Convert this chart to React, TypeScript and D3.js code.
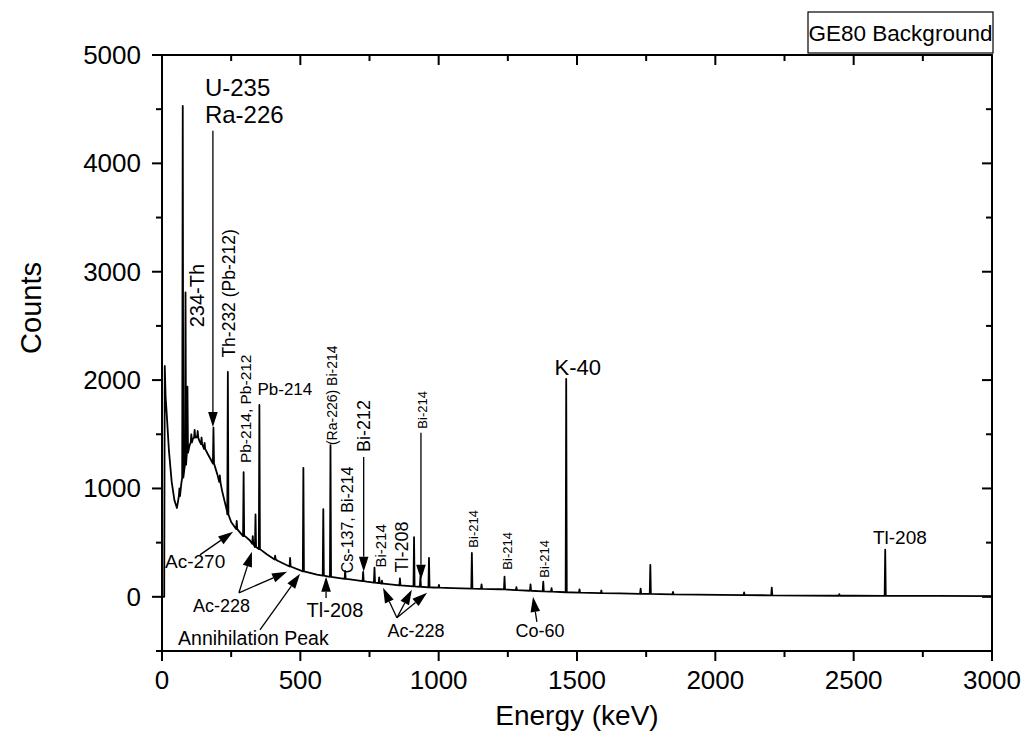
import React from 'react';
import * as d3 from 'd3';

// ---- axis ticks ----
const xMajorTicks = [0, 500, 1000, 1500, 2000, 2500, 3000];
const xMinorTicks = [250, 750, 1250, 1750, 2250, 2750];
const yMajorTicks = [0, 1000, 2000, 3000, 4000, 5000];
const yMinorTicks = [-500, 500, 1500, 2500, 3500, 4500];

// ---- continuum readings: [energy keV, counts] ----
const continuum: [number, number][] = [
  [0, 0], [8, 0], [10, 2130], [13, 1850], [18, 1650], [25, 1350], [35, 1060], [45, 890],
  [54, 820], [62, 900], [70, 1050], [80, 1160], [88, 1260], [100, 1400], [112, 1460],
  [125, 1480], [135, 1440], [150, 1380], [165, 1320], [186, 1230], [200, 1130], [217, 980],
  [235, 790], [250, 690], [271, 630], [300, 560], [318, 520], [350, 440], [380, 390],
  [420, 330], [463, 280], [510, 235], [560, 205], [607, 185], [680, 160], [740, 140],
  [800, 122], [860, 106], [920, 95], [980, 86], [1050, 80], [1120, 75], [1222, 70],
  [1300, 60], [1400, 48], [1461, 42], [1550, 36], [1655, 32], [1800, 25], [2017, 18],
  [2200, 14], [2500, 10], [2800, 8], [3000, 7],
];

// ---- peak readings: [energy keV, top counts, base counts] ----
const peaks: [number, number, number][] = [
  [63, 1000, 930], [75, 4530, 1100], [85, 2810, 1220], [92, 1940, 1330],
  [106, 1500, 1425], [118, 1540, 1470], [129, 1530, 1470], [143, 1470, 1410], [154, 1420, 1365],
  [186, 1560, 1230], [209, 1120, 1060], [238, 2075, 760], [270, 700, 625], [295, 1150, 560],
  [328, 560, 490], [338, 760, 460], [352, 1770, 440], [409, 380, 345], [463, 360, 280],
  [511, 1190, 235], [583, 810, 195], [609, 1400, 185], [662, 240, 165],
  [727, 230, 145], [768, 270, 130], [785, 180, 126], [795, 150, 122], [860, 170, 106],
  [911, 550, 96], [934, 185, 93], [965, 360, 88], [1001, 110, 84], [1120, 405, 75],
  [1155, 115, 73], [1238, 185, 68], [1281, 90, 62], [1332, 115, 56], [1378, 140, 50],
  [1408, 80, 47], [1461, 2010, 42], [1509, 68, 38], [1588, 58, 34], [1730, 75, 28],
  [1765, 295, 27], [1847, 45, 23], [2104, 40, 16], [2204, 85, 14], [2448, 25, 10],
  [2614, 435, 9],
];

// ---- labels ----
type Label = { text: string; e: number; c: number; rot?: boolean; size: number; anchor?: string };
const labels: Label[] = [
  { text: 'U-235', e: 155, c: 4620, size: 24, anchor: 'start' },
  { text: 'Ra-226', e: 155, c: 4370, size: 24, anchor: 'start' },
  { text: '234-Th', e: 127, c: 2780, rot: true, size: 20 },
  { text: 'Th-232 (Pb-212)', e: 242, c: 2800, rot: true, size: 17.5 },
  { text: 'Pb-214, Pb-212', e: 300, c: 1735, rot: true, size: 15.5 },
  { text: 'Pb-214', e: 345, c: 1860, size: 17, anchor: 'start' },
  { text: '(Ra-226) Bi-214', e: 614, c: 1860, rot: true, size: 14 },
  { text: 'Bi-212', e: 729, c: 1577, rot: true, size: 18 },
  { text: 'Cs-137, Bi-214', e: 669, c: 710, rot: true, size: 16 },
  { text: 'Bi-214', e: 791, c: 470, rot: true, size: 15 },
  { text: 'Tl-208', e: 866, c: 460, rot: true, size: 18 },
  { text: 'Bi-214', e: 940, c: 1725, rot: true, size: 13 },
  { text: 'Bi-214', e: 1125, c: 627, rot: true, size: 13 },
  { text: 'Bi-214', e: 1247, c: 424, rot: true, size: 13 },
  { text: 'Bi-214', e: 1384, c: 350, rot: true, size: 13 },
  { text: 'K-40', e: 1503, c: 2050, size: 22, anchor: 'middle' },
  { text: 'Tl-208', e: 2667, c: 485, size: 19, anchor: 'middle' },
  { text: 'Ac-270', e: 11, c: 268, size: 19, anchor: 'start' },
  { text: 'Ac-228', e: 112, c: -138, size: 18, anchor: 'start' },
  { text: 'Annihilation Peak', e: 58, c: -443, size: 19.5, anchor: 'start' },
  { text: 'Tl-208', e: 625, c: -185, size: 20, anchor: 'middle' },
  { text: 'Ac-228', e: 918, c: -369, size: 18, anchor: 'middle' },
  { text: 'Co-60', e: 1366, c: -369, size: 18, anchor: 'middle' },
];

// ---- arrows: [e1, c1, e2(tip), c2(tip)] ----
const arrows: [number, number, number, number][] = [
  [184, 4300, 184, 1568],
  [729, 1290, 729, 231],
  [936, 1513, 936, 157],
  [137, 387, 257, 600],
  [278, 37, 325, 415],
  [278, 37, 452, 231],
  [354, -304, 499, 212],
  [593, -10, 593, 185],
  [849, -194, 799, 83],
  [849, -194, 903, 65],
  [849, -194, 958, 37],
  [1355, -231, 1341, 0],
];

const FONT = '"Liberation Sans", Arial, sans-serif';

function buildSpectrum(): [number, number][] {
  const hw = 2;
  const pts: [number, number][] = continuum
    .filter((d) => !peaks.some(([e]) => Math.abs(d[0] - e) <= hw))
    .map((d) => [d[0], d[1]] as [number, number]);
  for (const [e, top, base] of peaks) {
    pts.push([e - hw, base], [e, top], [e + hw, base]);
  }
  pts.sort((a, b) => a[0] - b[0]);
  return pts;
}

function Arrow({ x1, y1, x2, y2 }: { x1: number; y1: number; x2: number; y2: number }) {
  const dx = x2 - x1, dy = y2 - y1;
  const L = Math.hypot(dx, dy);
  const ux = dx / L, uy = dy / L;
  const len = 15, w = 4.8;
  const bx = x2 - ux * len, by = y2 - uy * len;
  const px = -uy * w, py = ux * w;
  return (
    <g>
      <line x1={x1} y1={y1} x2={bx} y2={by} stroke="#000" strokeWidth={1.3} />
      <polygon points={`${x2},${y2} ${bx + px},${by + py} ${bx - px},${by - py}`} fill="#000" />
    </g>
  );
}

export default function App() {
  const W = 1027, H = 745;
  const x = d3.scaleLinear().domain([0, 3000]).range([162, 992]);
  const y = d3.scaleLinear().domain([-500, 5000]).range([651, 55]);
  const spectrum = buildSpectrum();
  const line = d3.line<[number, number]>().x((d) => x(d[0])).y((d) => y(d[1]));
  const [x0, x1] = x.range();
  const [yb, yt] = y.range();

  return (
    <svg width={W} height={H} style={{ position: 'absolute', left: 0, top: 0, background: '#fff' }} fontFamily={FONT}>
      <rect x={0} y={0} width={W} height={H} fill="#fff" />
      {/* spectrum */}
      <path d={line(spectrum) || ''} fill="none" stroke="#000" strokeWidth={1.8} strokeLinejoin="round" />

      {/* frame */}
      <rect x={x0} y={yt} width={x1 - x0} height={yb - yt} fill="none" stroke="#000" strokeWidth={2} />

      {/* bottom ticks (outward) and top ticks (inward) */}
      {xMajorTicks.map((t) => (
        <g key={'xM' + t}>
          <line x1={x(t)} x2={x(t)} y1={yb} y2={yb + 10} stroke="#000" strokeWidth={2} />
          <line x1={x(t)} x2={x(t)} y1={yt} y2={yt + 10} stroke="#000" strokeWidth={2} />
          <text x={x(t)} y={689} textAnchor="middle" fontSize={26}>{t}</text>
        </g>
      ))}
      {xMinorTicks.map((t) => (
        <g key={'xm' + t}>
          <line x1={x(t)} x2={x(t)} y1={yb} y2={yb + 6} stroke="#000" strokeWidth={2} />
          <line x1={x(t)} x2={x(t)} y1={yt} y2={yt + 6} stroke="#000" strokeWidth={2} />
        </g>
      ))}
      {/* left ticks (outward) and right ticks (inward) */}
      {yMajorTicks.map((t) => (
        <g key={'yM' + t}>
          <line x1={x0} x2={x0 - 10} y1={y(t)} y2={y(t)} stroke="#000" strokeWidth={2} />
          <line x1={x1} x2={x1 - 10} y1={y(t)} y2={y(t)} stroke="#000" strokeWidth={2} />
          <text x={141} y={y(t)} textAnchor="end" dominantBaseline="central" fontSize={26}>{t}</text>
        </g>
      ))}
      {yMinorTicks.map((t) => (
        <g key={'ym' + t}>
          <line x1={x0} x2={x0 - 6} y1={y(t)} y2={y(t)} stroke="#000" strokeWidth={2} />
          <line x1={x1} x2={x1 - 6} y1={y(t)} y2={y(t)} stroke="#000" strokeWidth={2} />
        </g>
      ))}

      {/* axis titles */}
      <text x={(x0 + x1) / 2} y={725} textAnchor="middle" fontSize={28}>Energy (keV)</text>
      <text transform={`translate(41,${(yb + yt) / 2 - 45}) rotate(-90)`} textAnchor="middle" fontSize={29}>Counts</text>

      {/* title box */}
      <rect x={808} y={12} width={185} height={41} fill="#fff" stroke="#000" strokeWidth={1.2} />
      <text x={900.5} y={41} textAnchor="middle" fontSize={22.5}>GE80 Background</text>

      {/* arrows */}
      {arrows.map((a, i) => (
        <Arrow key={'a' + i} x1={x(a[0])} y1={y(a[1])} x2={x(a[2])} y2={y(a[3])} />
      ))}

      {/* labels */}
      {labels.map((l, i) =>
        l.rot ? (
          <text key={'l' + i} transform={`translate(${x(l.e)},${y(l.c)}) rotate(-90)`} textAnchor="middle" dominantBaseline="central" fontSize={l.size}>{l.text}</text>
        ) : (
          <text key={'l' + i} x={x(l.e)} y={y(l.c)} textAnchor={l.anchor || 'start'} fontSize={l.size}>{l.text}</text>
        )
      )}
    </svg>
  );
}
